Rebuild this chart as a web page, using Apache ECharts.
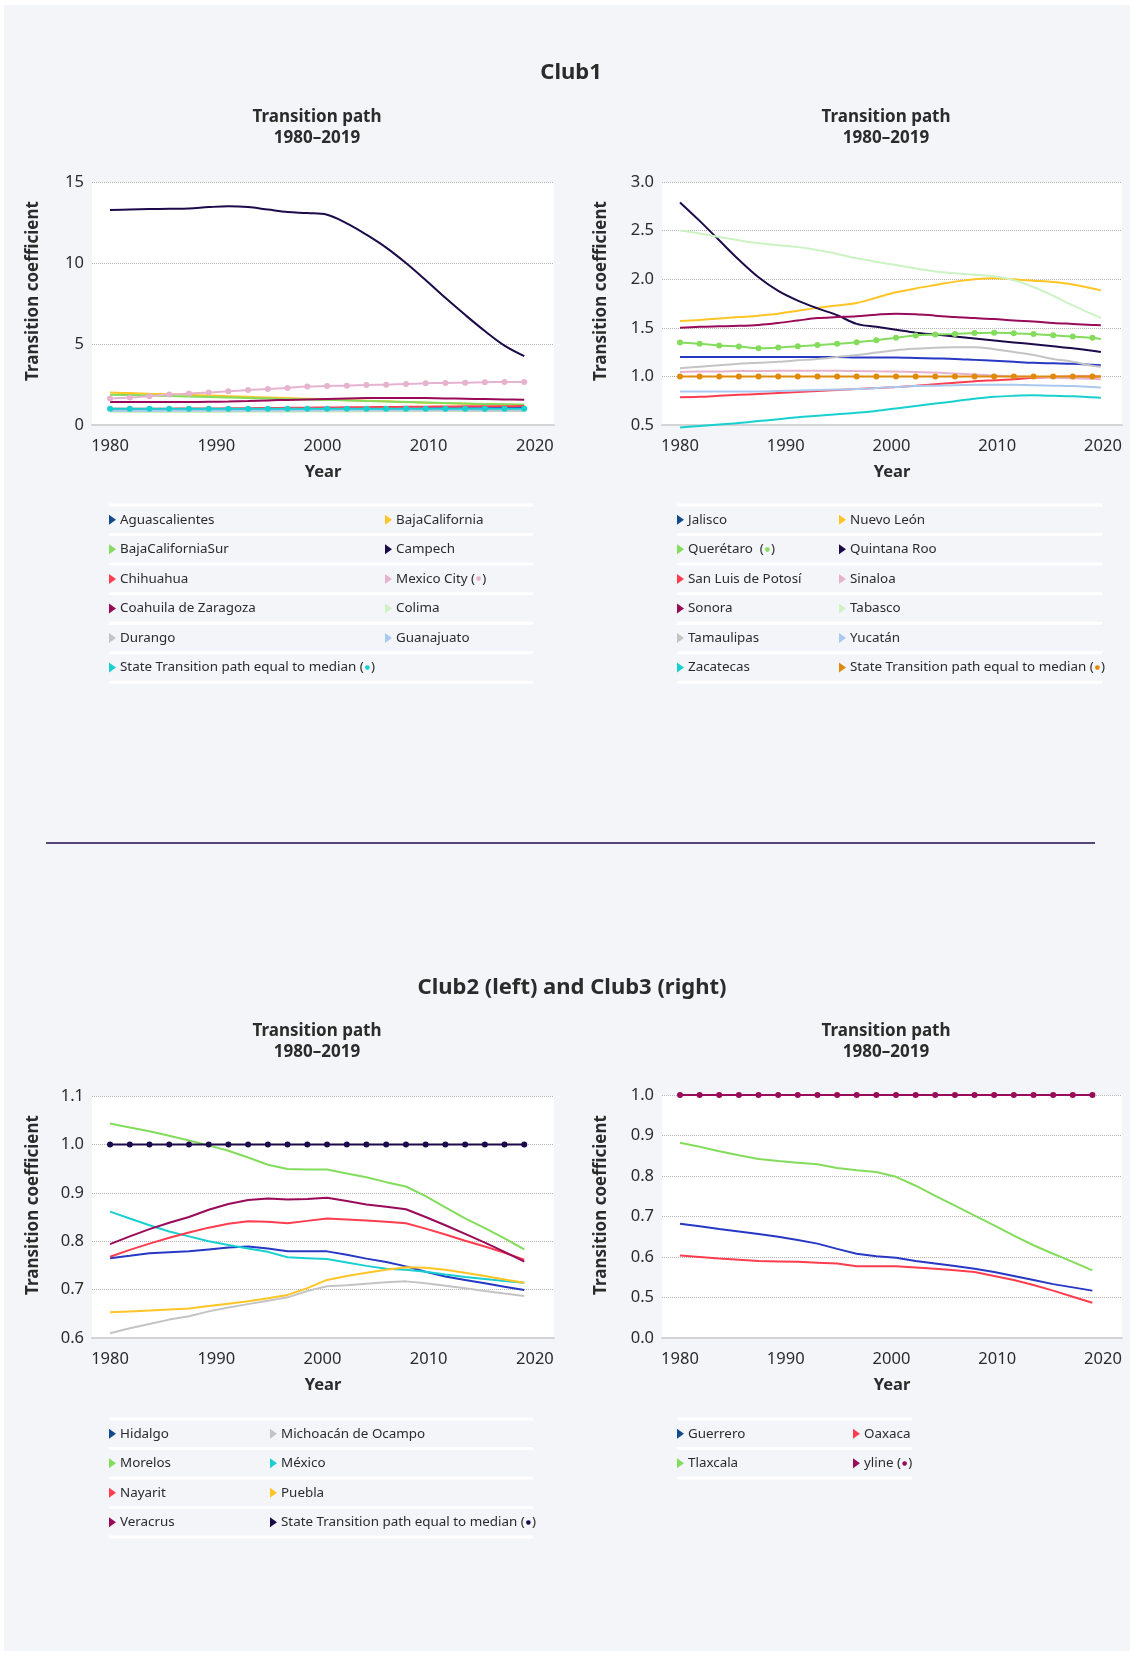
<!DOCTYPE html>
<html>
<head>
<meta charset="utf-8">
<script src="https://cdn.jsdelivr.net/npm/echarts@6/dist/echarts.min.js"></script>
<style>
  html, body { margin: 0; padding: 0; background: #ffffff; }
  #main { width: 1134px; height: 1655px; }
</style>
</head>
<body>
<div id="main"></div>
<script>
// ---------- shared x values (observation points) and tick labels ----------
const years = [1980, 1981.86, 1983.71, 1985.57, 1987.43, 1989.29, 1991.14, 1993.0, 1994.86, 1996.71, 1998.57,
  2000.43, 2002.29, 2004.14, 2006.0, 2007.86, 2009.71, 2011.57, 2013.43, 2015.29, 2017.14, 2019.0];
const yearsLong = years.concat([2019.8]);
const xTicks = [1980, 1990, 2000, 2010, 2020];
const yTicksClub3 = ['0.0', '0.5', '0.6', '0.7', '0.8', '0.9', '1.0'];

// ---------- Club1, left panel ----------
const club1Names = ['Aguascalientes', 'BajaCalifornia', 'BajaCaliforniaSur', 'Campech', 'Chihuahua', 'Mexico City',
  'Coahuila de Zaragoza', 'Colima', 'Durango', 'Guanajuato', 'State Transition path equal to median'];
const aguascalientes = [0.95, 0.95, 0.96, 0.96, 0.97, 0.97, 0.98, 0.98, 0.99, 0.99, 1.0, 1.0, 1.01, 1.01, 1.02, 1.02, 1.03, 1.03, 1.04, 1.04, 1.05, 1.05];
const bajaCalifornia = [2.0, 1.97, 1.93, 1.9, 1.86, 1.82, 1.78, 1.74, 1.7, 1.66, 1.62, 1.58, 1.54, 1.5, 1.46, 1.42, 1.38, 1.34, 1.31, 1.28, 1.26, 1.24];
const bajaCaliforniaSur = [1.87, 1.85, 1.82, 1.79, 1.76, 1.73, 1.7, 1.67, 1.64, 1.61, 1.58, 1.55, 1.52, 1.48, 1.45, 1.42, 1.39, 1.36, 1.33, 1.3, 1.28, 1.26];
const campech = [13.27, 13.3, 13.33, 13.35, 13.37, 13.45, 13.5, 13.45, 13.3, 13.15, 13.08, 12.98, 12.45, 11.75, 10.95, 10.0, 8.95, 7.85, 6.8, 5.8, 4.9, 4.25];
const chihuahua = [1.0, 1.0, 1.01, 1.01, 1.02, 1.02, 1.03, 1.04, 1.05, 1.06, 1.07, 1.08, 1.09, 1.1, 1.11, 1.12, 1.13, 1.14, 1.15, 1.16, 1.16, 1.17];
const mexicoCity = [1.63, 1.69, 1.78, 1.88, 1.94, 2.0, 2.08, 2.16, 2.22, 2.29, 2.37, 2.41, 2.43, 2.47, 2.49, 2.53, 2.57, 2.6, 2.61, 2.64, 2.65, 2.65];
const coahuila = [1.42, 1.42, 1.42, 1.42, 1.42, 1.43, 1.45, 1.48, 1.52, 1.55, 1.58, 1.61, 1.64, 1.66, 1.67, 1.67, 1.66, 1.64, 1.62, 1.6, 1.58, 1.56];
const colima = [0.8, 0.8, 0.8, 0.8, 0.81, 0.81, 0.81, 0.82, 0.82, 0.82, 0.83, 0.83, 0.84, 0.84, 0.85, 0.85, 0.86, 0.86, 0.86, 0.87, 0.87, 0.87];
const durango = [0.9, 0.9, 0.9, 0.9, 0.9, 0.9, 0.9, 0.9, 0.9, 0.9, 0.9, 0.9, 0.9, 0.9, 0.9, 0.89, 0.89, 0.89, 0.89, 0.88, 0.88, 0.88];
const guanajuato = [0.88, 0.88, 0.88, 0.89, 0.89, 0.89, 0.9, 0.9, 0.9, 0.91, 0.91, 0.92, 0.92, 0.93, 0.93, 0.93, 0.94, 0.94, 0.94, 0.95, 0.95, 0.95];
const medianClub1 = [1, 1, 1, 1, 1, 1, 1, 1, 1, 1, 1, 1, 1, 1, 1, 1, 1, 1, 1, 1, 1, 1];

// ---------- Club1, right panel ----------
const club1bNames = ['Jalisco', 'Nuevo León', 'Querétaro', 'Quintana Roo', 'San Luis de Potosí', 'Sinaloa',
  'Sonora', 'Tabasco', 'Tamaulipas', 'Yucatán', 'Zacatecas', 'State Transition path equal to median'];
const jalisco = [1.2, 1.2, 1.2, 1.2, 1.2, 1.2, 1.2, 1.2, 1.2, 1.195, 1.195, 1.195, 1.19, 1.185, 1.18, 1.17, 1.16, 1.15, 1.14, 1.135, 1.13, 1.12, 1.115];
const nuevoLeon = [1.57, 1.58, 1.595, 1.61, 1.625, 1.645, 1.675, 1.705, 1.73, 1.755, 1.81, 1.865, 1.905, 1.94, 1.975, 2.0, 2.01, 2.0, 1.985, 1.97, 1.945, 1.905, 1.885];
const queretaro = [1.35, 1.335, 1.318, 1.307, 1.29, 1.297, 1.31, 1.322, 1.335, 1.352, 1.372, 1.398, 1.422, 1.43, 1.437, 1.446, 1.45, 1.445, 1.435, 1.423, 1.41, 1.397, 1.385];
const quintanaRoo = [2.79, 2.6, 2.4, 2.2, 2.02, 1.88, 1.78, 1.7, 1.63, 1.54, 1.51, 1.48, 1.45, 1.43, 1.41, 1.39, 1.37, 1.35, 1.33, 1.31, 1.29, 1.265, 1.25];
const sanLuis = [0.785, 0.79, 0.8, 0.81, 0.82, 0.83, 0.84, 0.85, 0.86, 0.87, 0.88, 0.89, 0.905, 0.92, 0.935, 0.95, 0.96, 0.97, 0.985, 0.995, 1.0, 1.0, 1.0];
const sinaloa = [1.045, 1.05, 1.05, 1.055, 1.055, 1.058, 1.058, 1.058, 1.058, 1.055, 1.052, 1.05, 1.045, 1.04, 1.03, 1.02, 1.01, 1.0, 0.995, 0.985, 0.98, 0.975, 0.97];
const sonora = [1.5, 1.51, 1.515, 1.52, 1.53, 1.55, 1.575, 1.6, 1.61, 1.62, 1.635, 1.645, 1.64, 1.625, 1.61, 1.6, 1.59, 1.575, 1.565, 1.55, 1.54, 1.53, 1.525];
const tabasco = [2.5, 2.47, 2.435, 2.4, 2.37, 2.35, 2.33, 2.3, 2.26, 2.215, 2.18, 2.145, 2.11, 2.08, 2.06, 2.045, 2.03, 1.99, 1.92, 1.83, 1.73, 1.64, 1.6];
const tamaulipas = [1.085, 1.1, 1.115, 1.13, 1.14, 1.15, 1.165, 1.18, 1.2, 1.22, 1.245, 1.27, 1.285, 1.295, 1.3, 1.3, 1.28, 1.25, 1.22, 1.18, 1.15, 1.11, 1.1];
const yucatan = [0.845, 0.845, 0.845, 0.845, 0.845, 0.85, 0.855, 0.86, 0.865, 0.87, 0.88, 0.89, 0.9, 0.905, 0.91, 0.915, 0.915, 0.915, 0.91, 0.905, 0.9, 0.89, 0.885];
const zacatecas = [0.475, 0.49, 0.505, 0.52, 0.54, 0.56, 0.58, 0.595, 0.61, 0.625, 0.645, 0.67, 0.695, 0.72, 0.745, 0.77, 0.79, 0.8, 0.805, 0.8, 0.795, 0.785, 0.78];
const medianClub1b = [1, 1, 1, 1, 1, 1, 1, 1, 1, 1, 1, 1, 1, 1, 1, 1, 1, 1, 1, 1, 1, 1, 1];

// ---------- Club2 ----------
const club2Names = ['Hidalgo', 'Michoacán de Ocampo', 'Morelos', 'México', 'Nayarit', 'Puebla', 'Veracrus',
  'State Transition path equal to median'];
const hidalgo = [0.765, 0.77, 0.775, 0.777, 0.779, 0.783, 0.787, 0.789, 0.785, 0.779, 0.779, 0.779, 0.772, 0.764, 0.757, 0.748, 0.737, 0.727, 0.72, 0.713, 0.706, 0.699];
const michoacan = [0.61, 0.62, 0.629, 0.638, 0.645, 0.655, 0.663, 0.67, 0.677, 0.684, 0.697, 0.707, 0.709, 0.712, 0.715, 0.717, 0.713, 0.708, 0.703, 0.697, 0.692, 0.687];
const morelos = [1.043, 1.035, 1.027, 1.018, 1.008, 0.998, 0.987, 0.973, 0.958, 0.949, 0.948, 0.948, 0.94, 0.932, 0.922, 0.913, 0.893, 0.87, 0.847, 0.827, 0.806, 0.783];
const mexico = [0.861, 0.847, 0.833, 0.82, 0.81, 0.8, 0.792, 0.785, 0.778, 0.767, 0.765, 0.763, 0.756, 0.749, 0.743, 0.741, 0.737, 0.731, 0.726, 0.722, 0.718, 0.714];
const nayarit = [0.768, 0.782, 0.795, 0.807, 0.818, 0.828, 0.836, 0.841, 0.84, 0.837, 0.842, 0.847, 0.845, 0.843, 0.84, 0.837, 0.826, 0.814, 0.801, 0.789, 0.776, 0.762];
const puebla = [0.653, 0.655, 0.657, 0.659, 0.661, 0.666, 0.671, 0.676, 0.682, 0.689, 0.703, 0.72, 0.728, 0.735, 0.741, 0.746, 0.745, 0.741, 0.735, 0.728, 0.721, 0.714];
const veracrus = [0.794, 0.81, 0.825, 0.838, 0.85, 0.865, 0.877, 0.885, 0.888, 0.886, 0.887, 0.89, 0.883, 0.876, 0.871, 0.866, 0.85, 0.833, 0.815, 0.797, 0.778, 0.758];
const medianClub2 = [1, 1, 1, 1, 1, 1, 1, 1, 1, 1, 1, 1, 1, 1, 1, 1, 1, 1, 1, 1, 1, 1];

// ---------- Club3 ----------
const club3Names = ['Guerrero', 'Oaxaca', 'Tlaxcala', 'yline'];
const guerrero = [0.682, 0.676, 0.669, 0.663, 0.657, 0.65, 0.642, 0.633, 0.62, 0.608, 0.602, 0.598, 0.59, 0.584, 0.578, 0.571, 0.563, 0.553, 0.543, 0.533, 0.525, 0.517];
const oaxaca = [0.604, 0.6, 0.596, 0.593, 0.59, 0.589, 0.588, 0.586, 0.584, 0.577, 0.577, 0.577, 0.574, 0.571, 0.567, 0.563, 0.553, 0.543, 0.531, 0.517, 0.502, 0.487];
const tlaxcala = [0.882, 0.872, 0.861, 0.851, 0.842, 0.837, 0.833, 0.829, 0.82, 0.814, 0.81, 0.798, 0.776, 0.751, 0.727, 0.702, 0.678, 0.653, 0.629, 0.608, 0.588, 0.567];
const yline = [1, 1, 1, 1, 1, 1, 1, 1, 1, 1, 1, 1, 1, 1, 1, 1, 1, 1, 1, 1, 1, 1];

// ---------- palette ----------
const C = {
  blue: '#2638c4', blueKey: '#124a8c', yellow: '#ffc425', green: '#84dc5c', navy: '#1c0a4a',
  red: '#ff3d4f', pink: '#e6b3cf', maroon: '#990a58', lightGreen: '#cdf2c4', gray: '#c4c4c4',
  lightBlue: '#a9c9ee', cyan: '#19d0d0', orange: '#e08a0b'
};
const FONT = 'Noto Sans';
const TEXT = '#2b2b2b';

// panel definitions: series values, colours, which have dots
const panels = [
  {
    xs: years,
    names: club1Names,
    values: [aguascalientes, bajaCalifornia, bajaCaliforniaSur, campech, chihuahua, mexicoCity, coahuila, colima, durango, guanajuato, medianClub1],
    colors: [C.blue, C.yellow, C.green, C.navy, C.red, C.pink, C.maroon, C.lightGreen, C.gray, C.lightBlue, C.cyan],
    dotted: [5, 10], smooth: true
  },
  {
    xs: yearsLong,
    names: club1bNames,
    values: [jalisco, nuevoLeon, queretaro, quintanaRoo, sanLuis, sinaloa, sonora, tabasco, tamaulipas, yucatan, zacatecas, medianClub1b],
    colors: [C.blue, C.yellow, C.green, C.navy, C.red, C.pink, C.maroon, C.lightGreen, C.gray, C.lightBlue, C.cyan, C.orange],
    dotted: [2, 11], smooth: true
  },
  {
    xs: years,
    names: club2Names,
    values: [hidalgo, michoacan, morelos, mexico, nayarit, puebla, veracrus, medianClub2],
    colors: [C.blue, C.gray, C.green, C.cyan, C.red, C.yellow, C.maroon, C.navy],
    dotted: [7], smooth: false
  },
  {
    xs: years,
    names: club3Names,
    values: [guerrero, oaxaca, tlaxcala, yline],
    colors: [C.blue, C.red, C.green, C.maroon],
    dotted: [3], smooth: false
  }
];

const grids = [
  { left: 92, top: 182, width: 462, height: 243 },
  { left: 662, top: 182, width: 460, height: 243 },
  { left: 92, top: 1096, width: 462, height: 242 },
  { left: 662, top: 1095, width: 460, height: 243 }
];
const yRanges = [
  { min: 0, max: 15, interval: 5, fmt: v => String(v) },
  { min: 0.5, max: 3.0, interval: 0.5, fmt: v => v.toFixed(1) },
  { min: 0.6, max: 1.1, interval: 0.1, fmt: v => v.toFixed(1) },
  { min: 0.4, max: 1.0, interval: 0.1, fmt: v => yTicksClub3[Math.round(v * 10) - 4] }
];

const series = [];
panels.forEach((p, gi) => {
  p.values.forEach((vals, si) => {
    const hasDots = p.dotted.indexOf(si) >= 0;
    const data = vals.map((v, k) => {
      const item = { value: [p.xs[k], v] };
      if (p.xs[k] > 2019.5) item.symbol = 'none';
      return item;
    });
    series.push({
      type: 'line',
      name: p.names[si],
      xAxisIndex: gi,
      yAxisIndex: gi,
      data: data,
      smooth: p.smooth ? 0.35 : false,
      showSymbol: hasDots,
      symbol: 'circle',
      symbolSize: 6,
      clip: false,
      lineStyle: { color: p.colors[si], width: 2 },
      itemStyle: { color: p.colors[si] },
      z: hasDots ? 5 : 3,
      animation: false
    });
  });
});

const xAxes = grids.map((g, i) => ({
  type: 'value', gridIndex: i, min: 1978.3, max: 2021.8,
  axisLine: { show: true, lineStyle: { color: '#d4d4d4', width: 2 } },
  axisTick: { show: false },
  splitLine: { show: false },
  axisLabel: {
    customValues: xTicks, margin: 13, color: TEXT, fontSize: 16.5, fontFamily: FONT,
    formatter: v => String(Math.round(v))
  }
}));
const yAxes = grids.map((g, i) => ({
  type: 'value', gridIndex: i,
  min: yRanges[i].min, max: yRanges[i].max, interval: yRanges[i].interval,
  axisLine: { show: false }, axisTick: { show: false },
  splitLine: { show: true, lineStyle: { color: '#b4b4b4', type: 'dotted', width: 1 } },
  axisLabel: { margin: 8, color: TEXT, fontSize: 16.5, fontFamily: FONT, formatter: yRanges[i].fmt }
}));

// ---------- texts, legends and decoration ----------
const graphics = [];
graphics.push({ type: 'rect', z: -10, shape: { x: 4, y: 5, width: 1126, height: 1646 }, style: { fill: '#f4f5f9' } });

function label(text, x, y, size, weight, extra) {
  graphics.push(Object.assign({
    type: 'text', x: x, y: y, z: 10,
    style: { text: text, fill: TEXT, fontSize: size, fontWeight: weight, fontFamily: FONT, align: 'center', verticalAlign: 'middle' }
  }, extra || {}));
}

label('Club1', 571, 73, 22, 'bold');
label('Club2 (left) and Club3 (right)', 572, 988, 22, 'bold');
[[317, 117], [886, 117], [317, 1031], [886, 1031]].forEach(([x, y]) => {
  label('Transition path', x, y, 17, 'bold');
  label('1980–2019', x, y + 21, 17, 'bold');
});
[[33, 291], [601, 291], [33, 1205], [601, 1205]].forEach(([x, y]) => {
  label('Transition coefficient', x, y, 17, 'bold', { rotation: Math.PI / 2 });
});
[[323, 472], [892, 472], [323, 1385], [892, 1385]].forEach(([x, y]) => {
  label('Year', x, y, 16.5, 'bold');
});

// divider between the two sections
graphics.push({ type: 'line', shape: { x1: 46, y1: 843, x2: 1095, y2: 843 }, style: { stroke: '#1e0b4d', lineWidth: 1.5 } });

function legendBlock(panel, cfg) {
  const n = panel.names.length;
  const rows = Math.ceil(n / 2);
  for (let r = 0; r <= rows; r++) {
    graphics.push({ type: 'rect', z: 1, shape: { x: cfg.x0, y: cfg.top + r * cfg.step - 1.5, width: cfg.x1 - cfg.x0, height: 3 }, style: { fill: '#ffffff' } });
  }
  panel.names.forEach((name, i) => {
    const r = Math.floor(i / 2), c = i % 2;
    const cy = cfg.top + (r + 0.5) * cfg.step;
    const mx = cfg.marker[c];
    const keyColor = panel.keyColors ? panel.keyColors[i] : panel.colors[i];
    graphics.push({ type: 'polygon', z: 2, shape: { points: [[mx, cy - 5], [mx + 7, cy], [mx, cy + 5]] }, style: { fill: keyColor } });
    const hasDots = panel.dotted.indexOf(i) >= 0;
    const sep = cfg.gap && cfg.gap[i] ? cfg.gap[i] : ' ';
    const text = hasDots ? name + sep + '(' + '{d|●}' + ')' : name;
    graphics.push({
      type: 'text', z: 2, x: cfg.text[c], y: cy,
      style: {
        text: text, fill: TEXT, fontSize: 13.4, fontFamily: FONT, verticalAlign: 'middle', align: 'left',
        rich: { d: { fill: panel.colors[i], fontSize: 6, fontFamily: 'DejaVu Sans', padding: [0, 1, 0, 1] } }
      }
    });
  });
}

panels.forEach(p => { p.keyColors = [C.blueKey].concat(p.colors.slice(1)); });

legendBlock(panels[0], { x0: 109, x1: 533, top: 505, step: 29.55, marker: [109, 385], text: [120, 396] });
legendBlock(panels[1], { x0: 677, x1: 1102, top: 505, step: 29.55, marker: [677, 839], text: [688, 850], gap: { 2: '  ' } });
legendBlock(panels[2], { x0: 109, x1: 533, top: 1419, step: 29.5, marker: [109, 270], text: [120, 281] });
legendBlock(panels[3], { x0: 677, x1: 912, top: 1419, step: 29.5, marker: [677, 853], text: [688, 864] });

const chart = echarts.init(document.getElementById('main'), null, { renderer: 'canvas' });
chart.setOption({
  backgroundColor: '#ffffff',
  animation: false,
  grid: grids.map(g => Object.assign({ show: true, backgroundColor: '#ffffff', borderWidth: 0, containLabel: false }, g)),
  xAxis: xAxes,
  yAxis: yAxes,
  series: series,
  graphic: graphics
});
</script>
</body>
</html>
